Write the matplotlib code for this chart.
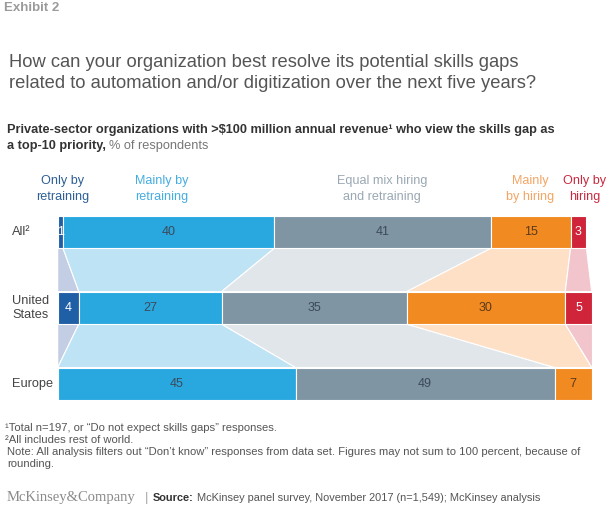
import numpy as np
import matplotlib
matplotlib.use('Agg')
import matplotlib.pyplot as plt

# chart data
categories = ['Only by\nretraining', 'Mainly by\nretraining', 'Equal mix hiring\nand retraining',
              'Mainly\nby hiring', 'Only by\nhiring']
regions = ['All\u00b2', 'United\nStates', 'Europe']
all_vals = [1, 40, 41, 15, 3]
us_vals = [4, 27, 35, 30, 5]
europe_vals = [0, 45, 49, 7, 0]
values = [all_vals, us_vals, europe_vals]

bar_colors = ['#1f5fa6', '#29a8e0', '#7f95a4', '#f28a22', '#cf2439']
band_colors = ['#c3cee4', '#bee3f5', '#e1e6ea', '#fde0c6', '#f2c5cd']
head_colors = ['#2d5f96', '#45ade0', '#9aa8b3', '#f4a563', '#c72a40']
value_colors = ['white', '#3b4a5a', '#3b4a5a', '#5a3a1a', 'white']
label_shift = [2, -7, -1, -1, 6]   # px nudges for the header labels

W, H = 609, 512
plt.rcParams['font.family'] = ['Liberation Sans', 'DejaVu Sans']

fig = plt.figure(figsize=(W / 100, H / 100), dpi=100)


def fx(x):
    return x / W


def fy(y):
    return 1 - y / H


# bar axes placed in pixel units
left, right, top, bottom = 57.7, 591.7, 215.7, 400.0
ax = fig.add_axes([fx(left), fy(bottom), fx(right - left), (bottom - top) / H])
half = 0.214
ax.set_xlim(0, 101)
ax.set_ylim(2 + half, -half)
ax.axis('off')

edges = [np.concatenate([[0], np.cumsum(v)]) for v in values]

# connecting bands between rows
for i in range(len(regions) - 1):
    y0, y1 = i + half, i + 1 - half
    for k in range(len(categories)):
        xs = [edges[i][k], edges[i][k + 1], edges[i + 1][k + 1], edges[i + 1][k]]
        ys = [y0, y0, y1, y1]
        ax.fill(xs, ys, facecolor=band_colors[k], edgecolor='white', linewidth=0.8, zorder=1)

# bars and value labels
for i, row in enumerate(values):
    for k, v in enumerate(row):
        if v == 0:
            continue
        ax.barh(i, v, left=edges[i][k], height=2 * half, color=bar_colors[k],
                edgecolor='white', linewidth=0.8, zorder=2)
        ax.text(edges[i][k] + v / 2, i, str(v), ha='center', va='center',
                fontsize=9, color=value_colors[k], zorder=3)

# row labels
for i, name in enumerate(regions):
    yp = ax.transData.transform((0, i))[1]
    fig.text(fx(12), yp / fig.dpi / fig.get_figheight(), name, ha='left', va='center',
             fontsize=9.2, color='#444444', linespacing=1.25)

# header labels above the "All" row
for k, name in enumerate(categories):
    cx = (edges[0][k] + edges[0][k + 1]) / 2
    xp = ax.transData.transform((cx, 0))[0] + label_shift[k]
    fig.text(xp / W, fy(189), name, ha='center', va='center', fontsize=9.1,
             color=head_colors[k], linespacing=1.4)

# titles
fig.text(fx(4), fy(8), 'Exhibit 2', ha='left', va='center', fontsize=9.5,
         fontweight='bold', color='#9a9a9a')
fig.text(fx(9), fy(73), 'How can your organization best resolve its potential skills gaps\n'
         'related to automation and/or digitization over the next five years?',
         ha='left', va='center', fontsize=13.2, color='#555555', linespacing=1.25)
fig.text(fx(7), fy(130), 'Private-sector organizations with >$100 million annual revenue\u00b9 '
         'who view the skills gap as', ha='left', va='center', fontsize=9.2,
         fontweight='bold', color='#333333')
t = fig.text(fx(7), fy(146), 'a top-10 priority,', ha='left', va='center', fontsize=9.2,
             fontweight='bold', color='#333333')
fig.canvas.draw()
ext = t.get_window_extent()
fig.text((ext.x1 + 3) / W, fy(146), '% of respondents', ha='left', va='center',
         fontsize=9.2, color='#777777')

# footnotes
foot = '#555555'
fig.text(fx(5), fy(428), '\u00b9Total n=197, or \u201cDo not expect skills gaps\u201d responses.',
         ha='left', va='center', fontsize=8.1, color=foot)
fig.text(fx(5), fy(440), '\u00b2All includes rest of world.',
         ha='left', va='center', fontsize=8.1, color=foot)
fig.text(fx(7), fy(458), 'Note: All analysis filters out \u201cDon\u2019t know\u201d responses from data set. '
         'Figures may not sum to 100 percent, because of\nrounding.',
         ha='left', va='center', fontsize=8.1, color=foot, linespacing=1.15)

fig.text(fx(7), fy(498), 'McKinsey&Company', ha='left', va='center', fontsize=10.5,
         family=['Liberation Serif', 'DejaVu Serif'], color='#8a8a8a')
fig.text(fx(147), fy(498), '|', ha='center', va='center', fontsize=9.5, color='#aaaaaa')
s = fig.text(fx(153), fy(498), 'Source:', ha='left', va='center', fontsize=7.9,
             fontweight='bold', color='#333333')
fig.canvas.draw()
ext = s.get_window_extent()
fig.text((ext.x1 + 3) / W, fy(498), 'McKinsey panel survey, November 2017 (n=1,549); McKinsey analysis',
         ha='left', va='center', fontsize=7.9, color='#555555')

fig.savefig('out.png', dpi=100)
